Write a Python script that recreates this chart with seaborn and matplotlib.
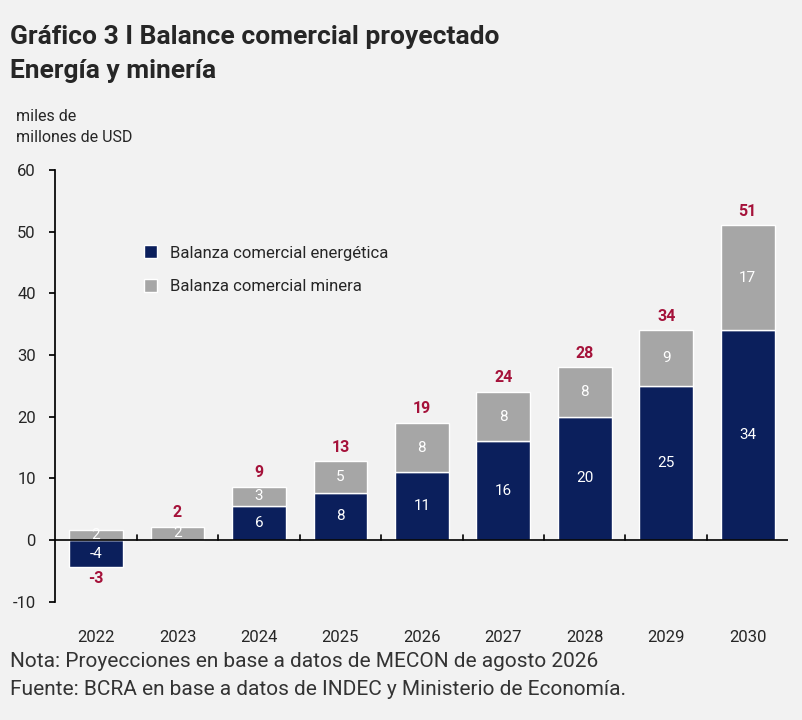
import numpy as np
import pandas as pd
import matplotlib.pyplot as plt
import seaborn as sns

years = ['2022', '2023', '2024', '2025', '2026', '2027', '2028', '2029', '2030']
energia = [-4.4, 0.0, 5.5, 7.7, 11.0, 16.0, 20.0, 25.0, 34.0]
minera = [1.7, 2.2, 3.2, 5.1, 8.0, 8.0, 8.0, 9.0, 17.0]
energia_lbl = ['-4', '', '6', '8', '11', '16', '20', '25', '34']
minera_lbl = ['2', '2', '3', '5', '8', '8', '8', '9', '17']
total_lbl = ['-3', '2', '9', '13', '19', '24', '28', '34', '51']

bg = '#f2f2f2'
navy = '#0b1f5c'
grey = '#a6a6a6'
red = '#a5123a'

sns.set_theme(style='white')
plt.rcParams['font.family'] = ['Roboto', 'DejaVu Sans']
plt.rcParams['axes.unicode_minus'] = False

df = pd.DataFrame({'year': years, 'energia': energia, 'minera': minera})
df['base'] = df['energia'].clip(lower=0)

fig = plt.figure(figsize=(8.02, 7.2), dpi=100, facecolor=bg)
ax = fig.add_axes([0.069, 0.164, 0.914, 0.6])
ax.set_facecolor(bg)

sns.barplot(data=df, x='year', y='energia', color=navy, width=0.66,
            saturation=1, ax=ax, label='Balanza comercial energética')
sns.barplot(data=df, x='year', y='minera', color=grey, width=0.66,
            saturation=1, ax=ax, bottom=df['base'], label='Balanza comercial minera')

for i in range(len(years)):
    if energia_lbl[i]:
        ax.text(i, energia[i] / 2, energia_lbl[i], ha='center', va='center',
                color='white', fontsize=11)
    ax.text(i, df['base'][i] + minera[i] / 2, minera_lbl[i], ha='center',
            va='center', color='white', fontsize=11)
    top = df['base'][i] + minera[i]
    if energia[i] < 0:
        ax.text(i, energia[i] - 1.8, total_lbl[i], ha='center', va='center',
                color=red, fontsize=11.5, fontweight='bold')
    else:
        ax.text(i, top + 2.3, total_lbl[i], ha='center', va='center',
                color=red, fontsize=11.5, fontweight='bold')

ax.set_ylim(-10, 60)
ax.set_xlim(-0.5, 8.5)
ax.set_yticks(range(-10, 61, 10))
ax.set_xlabel('')
ax.set_ylabel('')
ax.axhline(0, color='black', lw=1.2)
for s in ['top', 'right', 'bottom']:
    ax.spines[s].set_visible(False)
ax.spines['left'].set_color('black')
ax.tick_params(axis='y', left=True, length=4, color='black', labelsize=12, pad=10)
ax.tick_params(axis='x', bottom=False, labelsize=12, pad=14)
for xb in np.arange(0.5, 8.5, 1):
    ax.plot([xb, xb], [0, 0.9], color='black', lw=1.2)

ax.legend(loc='upper left', bbox_to_anchor=(0.1, 0.86), frameon=False,
          fontsize=12, handlelength=0.8, handleheight=0.8, labelspacing=1.1)

fig.text(0.012, 0.965, 'Gráfico 3 I Balance comercial proyectado', fontsize=19,
         fontweight='bold', va='top')
fig.text(0.012, 0.918, 'Energía y minería', fontsize=19, fontweight='bold', va='top')
fig.text(0.02, 0.848, 'miles de\nmillones de USD', fontsize=11.5, va='top', linespacing=1.5)
fig.text(0.012, 0.081, 'Nota: Proyecciones en base a datos de MECON de agosto 2026',
         fontsize=15, va='center', color='#333333')
fig.text(0.012, 0.042, 'Fuente: BCRA en base a datos de INDEC y Ministerio de Economía.',
         fontsize=15, va='center', color='#333333')

fig.savefig('out.png', dpi=100, facecolor=bg)
